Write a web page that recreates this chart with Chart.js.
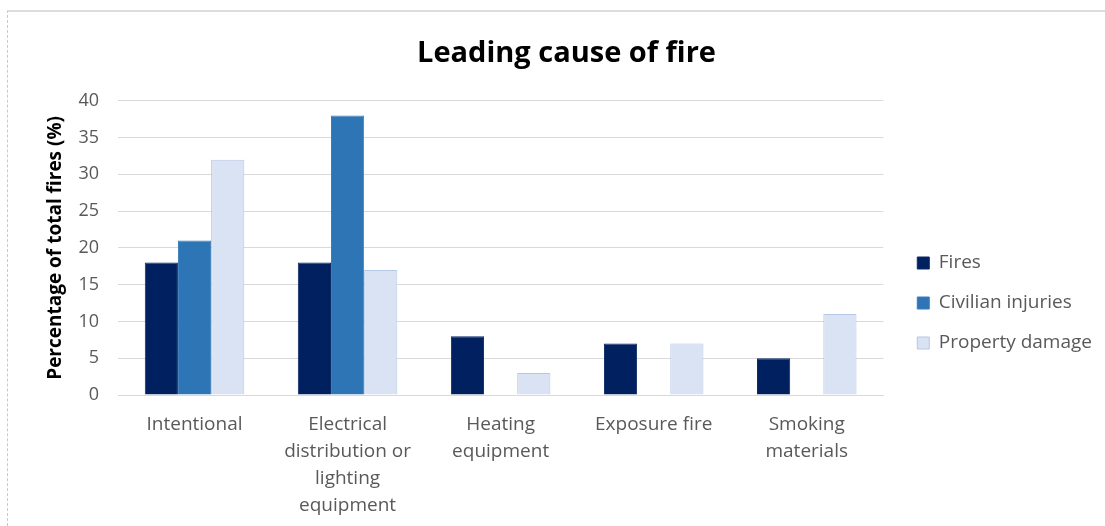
<!DOCTYPE html>
<html>
<head>
<meta charset="utf-8">
<script src="https://cdn.jsdelivr.net/npm/chart.js@4"></script>
<style>
  body { margin: 0; background: #fff; }
  #wrap { position: relative; width: 1105px; height: 526px; }
  #frame { position: absolute; left: 7px; top: 10px; right: 0; bottom: 0;
           border-top: 2px solid #dcdcdc; border-left: 1px dashed #c8c8c8; }
  canvas { position: absolute; left: 0; top: 0; }
</style>
</head>
<body>
<div id="wrap">
  <div id="frame"></div>
  <canvas id="fireChart" width="1105" height="526"></canvas>
</div>
<script>
const causes = [
  "Intentional",
  ["Electrical", "distribution or", "lighting", "equipment"],
  ["Heating", "equipment"],
  "Exposure fire",
  ["Smoking", "materials"]
];
const fires = [18, 18, 8, 7, 5];
const civilianInjuries = [21, 38, null, null, null];
const propertyDamage = [32, 17, 3, 7, 11];
const yTicks = [0, 5, 10, 15, 20, 25, 30, 35, 40];

const font = "'Open Sans', sans-serif";
const grey = "#595959";

// nudge the legend to where the original sits (lower and a bit to the right)
const legendNudge = {
  id: "legendNudge",
  afterLayout(chart) {
    const lg = chart.legend;
    lg.left += 13; lg.right += 13;
    lg.top += 40; lg.bottom += 40;
  },
};

// Create leading cause chart
const fireChart = new Chart(document.getElementById("fireChart"), {
  type: "bar",
  data: {
    labels: causes,
    datasets: [
      {
        label: "Fires",
        data: fires,
        backgroundColor: "#002060",
        borderColor: "#0b2a66",
        borderWidth: 1,
      },
      {
        label: "Civilian injuries",
        data: civilianInjuries,
        backgroundColor: "#2E75B6",
        borderColor: "#3a7dba",
        borderWidth: 1,
      },
      {
        label: "Property damage",
        data: propertyDamage,
        backgroundColor: "#DAE3F3",
        borderColor: "#B4C7E7",
        borderWidth: 1,
      },
    ],
  },
  plugins: [legendNudge],
  options: {
    responsive: false,
    animation: false,
    categoryPercentage: 0.65,
    barPercentage: 1,
    layout: { padding: { left: 44, right: 16, top: 0, bottom: 0 } },
    plugins: {
      title: {
        display: true,
        text: "Leading cause of fire",
        color: "#000",
        font: { family: font, size: 29, weight: "bold" },
        padding: { top: 36, bottom: 30 },
      },
      legend: {
        position: "right",
        labels: {
          boxWidth: 12,
          boxHeight: 12,
          padding: 21,
          color: grey,
          font: { family: font, size: 19 },
        },
      },
      tooltip: { enabled: false },
    },
    scales: {
      x: {
        grid: { display: false },
        border: { color: "#d9d9d9" },
        ticks: {
          color: grey,
          padding: 8,
          maxRotation: 0,
          font: { family: font, size: 19, lineHeight: 1.42 },
        },
        afterFit: (scale) => { scale.height = 131; },
      },
      y: {
        min: 0,
        max: 40,
        afterBuildTicks: (scale) => { scale.ticks = yTicks.map(v => ({ value: v })); },
        grid: { color: "#d9d9d9", drawTicks: false },
        border: { display: false },
        ticks: {
          color: grey,
          padding: 19,
          font: { family: font, size: 18 },
        },
        title: {
          display: true,
          text: "Percentage of total fires (%)",
          color: "#000",
          padding: 0,
          font: { family: font, size: 19, weight: "bold" },
        },
        afterFit: (scale) => { scale.width = 74; },
      },
    },
  },
});
</script>
</body>
</html>
